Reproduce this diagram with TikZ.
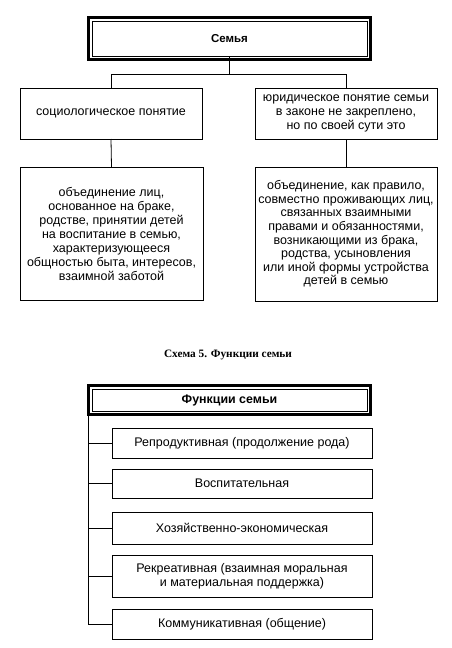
\documentclass[tikz,border=0pt]{standalone}
\usepackage{fontspec}
\setmainfont{Liberation Sans}
\newfontfamily\capfont{Liberation Serif}
\begin{document}
\begin{tikzpicture}[x=1pt,y=-1pt,
  every node/.style={inner sep=0pt, outer sep=0pt},
  box/.style={draw, line width=0.9pt, align=center, font=\fontsize{12.5}{14}\selectfont},
  titlebox/.style={draw, line width=0.8pt, align=center, font=\fontsize{12.4}{14}\selectfont\bfseries},
  frame/.style={line width=3pt},
  conn/.style={line width=0.8pt}]
\useasboundingbox (0,0) rectangle (452,648);
% top part
\node[titlebox, minimum width=275pt, minimum height=35pt, font=\fontsize{11.5}{14}\selectfont\bfseries] (top) at (229.5,38.5) {Семья};
\draw[frame] ([shift={(-3.5pt,3.5pt)}]top.north west) rectangle ([shift={(3.5pt,-3.5pt)}]top.south east);
\node[box, minimum width=182pt, minimum height=51pt] (soc) at (111,113.5) {социологическое понятие};
\node[box, minimum width=182pt, minimum height=51pt] (jur) at (346,113.5) {юридическое понятие семьи\\в законе не закреплено,\\но по своей сути это};
\node[box, minimum width=183pt, minimum height=133pt] (socd) at (111.5,233.5) {объединение лиц,\\основанное на браке,\\родстве, принятии детей\\на воспитание в семью,\\характеризующееся\\общностью быта, интересов,\\взаимной заботой};
\node[box, minimum width=182pt, minimum height=134pt, font=\fontsize{12.5}{13.6}\selectfont] (jurd) at (346,234) {объединение, как правило,\\совместно проживающих лиц,\\связанных взаимными\\правами и обязанностями,\\возникающими из брака,\\родства, усыновления\\или иной формы устройства\\детей в семью};
\coordinate (j) at (231,74);
\draw[conn] (top.south) -- (top.south |- j);
\draw[conn] (soc.north) -- (soc.north |- j) -- (jur.north |- j) -- (jur.north);
\draw[conn] (soc.south) -- (socd.north);
\draw[conn] (jur.south) -- (jurd.north);
% caption
\node[font=\capfont\fontsize{11.3}{12}\selectfont\bfseries] (cap) at (228,355) {Схема 5. Функции семьи};
% functions
\node[titlebox, minimum width=275pt, minimum height=22pt] (fun) at (229.5,400) {Функции семьи};
\draw[frame] ([shift={(-3.5pt,3.5pt)}]fun.north west) rectangle ([shift={(3.5pt,-3.5pt)}]fun.south east);
\node[box, minimum width=260pt, minimum height=30pt] (f1) at (242,443) {Репродуктивная (продолжение рода)};
\node[box, minimum width=260pt, minimum height=29pt] (f2) at (242,483.5) {Воспитательная};
\node[box, minimum width=260pt, minimum height=32pt] (f3) at (242,528) {Хозяйственно-экономическая};
\node[box, minimum width=260pt, minimum height=42pt] (f4) at (242,576) {Рекреативная (взаимная моральная\\и материальная поддержка)};
\node[box, minimum width=260pt, minimum height=30pt] (f5) at (242,624) {Коммуникативная (общение)};
\coordinate (tr) at (88.5,414);
\draw[conn] (tr) |- (f5.west);
\foreach \f in {f1,f2,f3,f4}{\draw[conn] (tr |- \f.west) -- (\f.west);}
\end{tikzpicture}
\end{document}
